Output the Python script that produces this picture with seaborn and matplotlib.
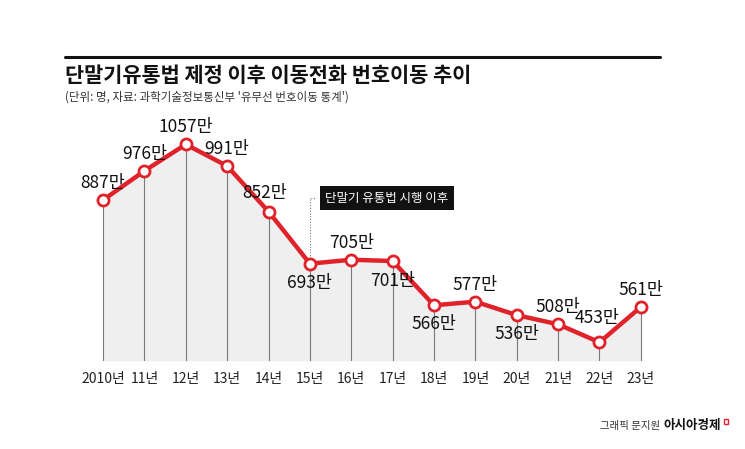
import matplotlib
matplotlib.use("Agg")
import matplotlib.pyplot as plt
import seaborn as sns
import pandas as pd
from matplotlib.patches import Rectangle

years = [2010, 2011, 2012, 2013, 2014, 2015, 2016, 2017, 2018, 2019, 2020, 2021, 2022, 2023]
tick_labels = ["2010년", "11년", "12년", "13년", "14년", "15년", "16년", "17년",
               "18년", "19년", "20년", "21년", "22년", "23년"]
values = [887, 976, 1057, 991, 852, 693, 705, 701, 566, 577, 536, 508, 453, 561]
label_pos = ["up", "up", "up", "up", "up", "down", "up", "down", "down", "up", "down", "up", "up", "up"]

sns.set_theme(style="white")
FONT = ["Noto Sans CJK KR", "DejaVu Sans"]
plt.rcParams["font.family"] = FONT

RED = "#e0232b"
df = pd.DataFrame({"year": years, "value": values})

fig = plt.figure(figsize=(7.45, 4.49), dpi=100)
ax = fig.add_axes([0.1105, 0.196, 0.7775, 0.581])

ymin, ymax = 396, 1192
ax.fill_between(years, values, ymin, color="#efefef", zorder=1, linewidth=0)
ax.vlines(years, ymin, values, color="#7a7a7a", linewidth=0.8, zorder=2)
sns.lineplot(data=df, x="year", y="value", ax=ax, color=RED, linewidth=3.2,
             marker="o", markersize=8, markerfacecolor="white",
             markeredgecolor=RED, markeredgewidth=2.0, zorder=4)

ax.set_xlim(2009.5, 2023.5)
ax.set_ylim(ymin, ymax)
ax.set_xticks(years)
ax.set_xticklabels(tick_labels, fontsize=10, color="#222222")
ax.tick_params(axis="x", length=0, pad=8)
ax.set_yticks([])
ax.set_xlabel("")
ax.set_ylabel("")
for s in ax.spines.values():
    s.set_visible(False)

custom = {
    4: (-0.1, 58),
    7: (0.0, -62),
    12: (-0.05, 75),
}
for i, (x, v, p) in enumerate(zip(years, values, label_pos)):
    dx, dy = custom.get(i, (0.0, 52 if p == "up" else -58))
    ax.text(x + dx, v + dy, f"{v}만", ha="center", va="center", fontsize=12.5,
            color="#111111", zorder=6)

# annotation box for 2015
ax.plot([2015, 2015, 2015.15], [693, 893, 893], color="#777777", linewidth=0.8,
        linestyle=(0, (1, 1.5)), zorder=3)
ax.text(2015.37, 893, "단말기 유통법 시행 이후", ha="left", va="center", fontsize=9,
        color="white", zorder=7,
        bbox=dict(boxstyle="square,pad=0.45", facecolor="#111111", edgecolor="none"))

# header
fig.add_artist(plt.Line2D([65 / 745, 660 / 745], [1 - 57 / 449, 1 - 57 / 449],
                          color="#111111", linewidth=2.2))
fig.text(65 / 745, 1 - 76 / 449, "단말기유통법 제정 이후 이동전화 번호이동 추이",
         fontsize=15, fontweight="heavy", ha="left", va="center", color="#111111")
fig.text(65 / 745, 1 - 97 / 449, "(단위: 명, 자료: 과학기술정보통신부 '유무선 번호이동 통계')",
         fontsize=8.3, ha="left", va="center", color="#333333")

# credit
fig.text(663 / 745, 1 - 426 / 449, "그래픽 문지원 ", fontsize=7.5, ha="right", va="center",
         color="#333333")
fig.text(663 / 745, 1 - 426 / 449, "아시아경제", fontsize=9, fontweight="heavy",
         ha="left", va="center", color="#111111")
fig.add_artist(Rectangle((724 / 745, 1 - 424 / 449), 4 / 745, 5 / 449,
                         transform=fig.transFigure, facecolor="white",
                         edgecolor=RED, linewidth=1.0))

fig.savefig("out.png", dpi=100, facecolor="white")
